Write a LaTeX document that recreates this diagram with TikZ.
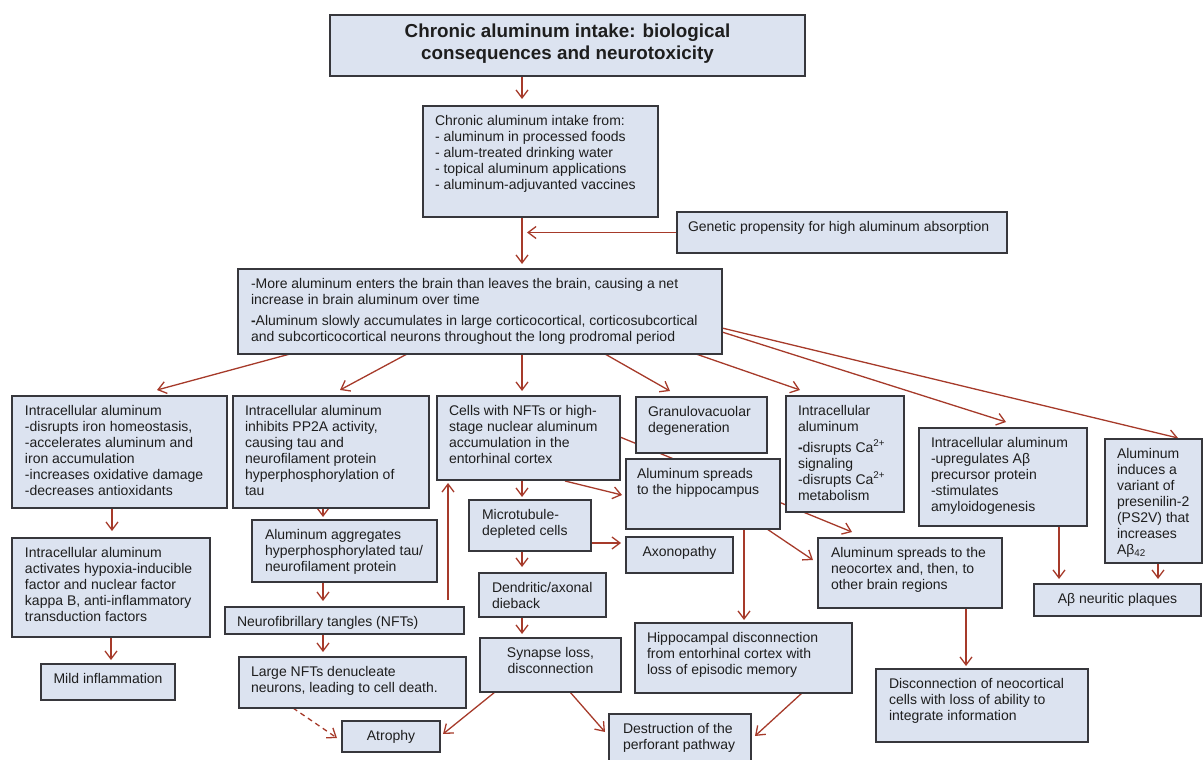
\documentclass[tikz,border=0pt]{standalone}
\usepackage{fontspec}
\setmainfont{Liberation Sans}
\usetikzlibrary{arrows.meta}
\pgfdeclarelayer{background}
\pgfsetlayers{background,main}
\definecolor{boxfill}{RGB}{220,227,240}
\definecolor{boxline}{RGB}{55,55,60}
\definecolor{arrred}{RGB}{166,58,42}
\definecolor{txt}{RGB}{30,30,30}
\setlength{\parindent}{0pt}
\newcommand{\lp}[1]{\raggedright\leftskip=#1pt\rightskip=0pt plus 1fil\relax}
% name, x1, y1, x2, y2, format, text
\newcommand{\bx}[7]{%
  \node[box, anchor=north west] (#1) at (#2,#3)
   {\parbox[c][\dimexpr #5pt-#3pt\relax][t]{\dimexpr #4pt-#2pt\relax}{\vspace*{9pt}#6#7\par}};}
\begin{document}
\begin{tikzpicture}[x=1pt,y=-1pt,
  box/.style={draw=boxline, fill=boxfill, line width=1.2pt, inner sep=0pt, outer sep=0pt,
              text=txt, font=\fontsize{14}{16}\selectfont},
  arr/.style={draw=arrred, line width=1.3pt,
              -{Straight Barb[length=8pt,width=12pt,line width=1.3pt]}},
  darr/.style={arr, dashed, dash pattern=on 5pt off 4pt}]
\useasboundingbox (0,0) rectangle (1203,760);

\bx{title}{330}{15}{805}{76}{\centering\bfseries\fontsize{18.8}{22}\selectfont}{Chronic aluminum intake: biological\\consequences and neurotoxicity}
\bx{intake}{423}{106}{658}{217}{\lp{12}}{Chronic aluminum intake from:\\- aluminum in processed foods\\- alum-treated drinking water\\- topical aluminum applications\\- aluminum-adjuvanted vaccines}
\bx{gen}{677}{212}{1007}{253}{\lp{11}}{Genetic propensity for high aluminum absorption}
\bx{big}{238}{269}{722}{354}{\lp{13}}{-More aluminum enters the brain than leaves the brain, causing a net\\increase in brain aluminum over time\\[5pt]\textbf{-}Aluminum slowly accumulates in large corticocortical, corticosubcortical\\and subcorticocortical neurons throughout the long prodromal period}

\bx{iron}{12}{396}{227}{508}{\lp{13}}{Intracellular aluminum\\-disrupts iron homeostasis,\\-accelerates aluminum and\\iron accumulation\\-increases oxidative damage\\-decreases antioxidants}
\bx{pp2a}{233}{396}{429}{508}{\lp{12}}{Intracellular aluminum\\inhibits PP2A activity,\\causing tau and\\neurofilament protein\\hyperphosphorylation of\\tau}
\bx{cells}{437}{396}{620}{480}{\lp{12}}{Cells with NFTs or high-\\stage nuclear aluminum\\accumulation in the\\entorhinal cortex}
\bx{gran}{636}{397}{767}{453}{\lp{12}}{Granulovacuolar\\degeneration}
\bx{ca}{786}{396}{904}{512}{\lp{12}}{Intracellular\\aluminum\\[5pt]\textbf{-}disrupts Ca\textsuperscript{2+}\\signaling\\-disrupts Ca\textsuperscript{2+}\\metabolism}
\bx{hippo}{626}{459}{780}{529}{\lp{11}}{Aluminum spreads\\to the hippocampus}
\bx{amy}{919}{428}{1087}{526}{\lp{12}}{Intracellular aluminum\\-upregulates Aβ\\precursor protein\\-stimulates\\amyloidogenesis}
\bx{ps}{1105}{439}{1202}{563}{\lp{12}}{Aluminum\\induces a\\variant of\\presenilin-2\\(PS2V) that\\increases\\Aβ\textsubscript{42}}

\bx{hyp}{12}{538}{210}{637}{\lp{13}}{Intracellular aluminum\\activates hypoxia-inducible\\factor and nuclear factor\\kappa B, anti-inflammatory\\transduction factors}
\bx{agg}{252}{520}{437}{582}{\lp{13}}{Aluminum aggregates\\hyperphosphorylated tau/\\neurofilament protein}
\bx{nft}{225}{607}{464}{634}{\lp{12}}{Neurofibrillary tangles (NFTs)}
\bx{mild}{41}{664}{175}{700}{\centering}{Mild inflammation}
\bx{large}{239}{657}{466}{708}{\lp{12}}{Large NFTs denucleate\\neurons, leading to cell death.}
\bx{micro}{469}{500}{591}{551}{\lp{13}}{Microtubule-\\depleted cells}
\bx{axo}{626}{537}{733}{573}{\centering}{Axonopathy}
\bx{dend}{479}{573}{606}{617}{\lp{13}}{Dendritic/axonal\\dieback}
\bx{syn}{480}{638}{621}{692}{\centering}{Synapse loss,\\disconnection}
\bx{hdisc}{635}{623}{852}{693}{\lp{12}}{Hippocampal disconnection\\from entorhinal cortex with\\loss of episodic memory}
\bx{neo}{818}{538}{1002}{608}{\lp{13}}{Aluminum spreads to the\\neocortex and, then, to\\other brain regions}
\bx{plaq}{1034}{584}{1201}{616}{\centering}{Aβ neuritic plaques}
\bx{atro}{342}{721}{440}{752}{\centering}{Atrophy}
\bx{dest}{609}{714}{751}{763}{\lp{14}}{Destruction of the\\perforant pathway}
\bx{ndisc}{876}{669}{1088}{742}{\lp{13}}{Disconnection of neocortical\\cells with loss of ability to\\integrate information}

\coordinate (junc) at (527,232.5);

\begin{pgfonlayer}{background}
\draw[arr] ([shift={(192,0)}]title.south west) -- ([shift={(99,-7)}]intake.north west);
\draw[arr] ([shift={(99,0)}]intake.south west) -- ([shift={(284,-5)}]big.north west);
\draw[arr] (gen.west) -- (junc);
\draw[arr] ([shift={(52,0)}]big.south west) -- ([shift={(145,-6)}]iron.north west);
\draw[arr] ([shift={(169,0)}]big.south west) -- ([shift={(107,-6)}]pp2a.north west);
\draw[arr] ([shift={(284,0)}]big.south west) -- ([shift={(85,-5)}]cells.north west);
\draw[arr] ([shift={(367,0)}]big.south west) -- ([shift={(34,-6)}]gran.north west);
\draw[arr] ([shift={(458,0)}]big.south west) -- ([shift={(14,-6)}]ca.north west);
\draw[arr] ([shift={(0,63)}]big.north east) -- ([shift={(87,-6)}]amy.north west);
\draw[arr] ([shift={(0,59)}]big.north east) -- ([shift={(73,-1)}]ps.north west);

\draw[arr] ([shift={(100,0)}]iron.south west) -- ([shift={(100,-7)}]hyp.north west);
\draw[arr] ([shift={(99,0)}]hyp.south west) -- ([shift={(70,-4)}]mild.north west);
\draw[arr] ([shift={(90,0)}]pp2a.south west) -- ([shift={(71,-3)}]agg.north west);
\draw[arr] ([shift={(71,0)}]agg.south west) -- ([shift={(98,-6)}]nft.north west);
\draw[arr] ([shift={(98,0)}]nft.south west) -- ([shift={(84,-5)}]large.north west);
\draw[arr] ([shift={(223,-7)}]nft.north west) -- ([shift={(11,3)}]cells.south west);
\draw[darr] ([shift={(54,0)}]large.south west) -- ([shift={(-5,17)}]atro.north west);

\draw[arr] ([shift={(85,0)}]cells.south west) -- ([shift={(53,-3)}]micro.north west);
\draw[arr] ([shift={(128,1)}]cells.south west) -- ([shift={(-4,36)}]hippo.north west);
\draw[arr] ([shift={(0,41)}]cells.north east) -- ([shift={(34,-6)}]neo.north west);
\draw[arr] ([shift={(-13,0)}]hippo.south east) -- ([shift={(-5,22)}]neo.north west);
\draw[arr] ([shift={(118,0)}]hippo.south west) -- ([shift={(109,-3)}]hdisc.north west);
\draw[arr] ([shift={(0,-8)}]micro.south east) -- ([shift={(-5,6)}]axo.north west);
\draw[arr] ([shift={(53,0)}]micro.south west) -- ([shift={(43,-6)}]dend.north west);
\draw[arr] ([shift={(43,0)}]dend.south west) -- ([shift={(42,-4)}]syn.north west);
\draw[arr] ([shift={(15,0)}]syn.south west) -- ([shift={(3,13)}]atro.north east);
\draw[arr] ([shift={(90,0)}]syn.south west) -- ([shift={(-4,18)}]dest.north west);
\draw[arr] ([shift={(167,0)}]hdisc.south west) -- ([shift={(4,22)}]dest.north east);
\draw[arr] ([shift={(148,0)}]neo.south west) -- ([shift={(90,-3)}]ndisc.north west);
\draw[arr] ([shift={(140,0)}]amy.south west) -- ([shift={(25,-5)}]plaq.north west);
\draw[arr] ([shift={(53,0)}]ps.south west) -- ([shift={(124,-5)}]plaq.north west);
\end{pgfonlayer}
\end{tikzpicture}
\end{document}
